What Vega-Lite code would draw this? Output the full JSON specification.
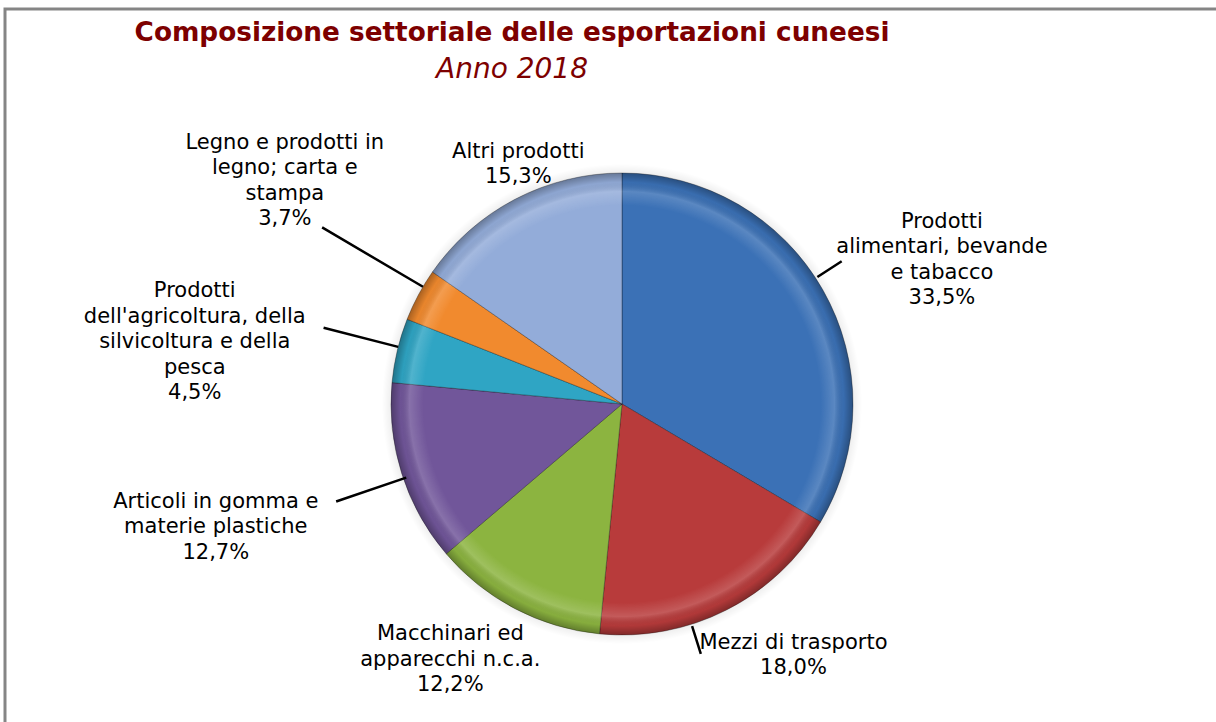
{
  "$schema": "https://vega.github.io/schema/vega-lite/v6.json",
  "width": 1234,
  "height": 790,
  "autosize": "none",
  "padding": {"left": 5, "top": 9, "right": -23, "bottom": -77},
  "background": "white",
  "view": {"stroke": "#858585", "strokeWidth": 3},
  "title": {
    "text": "Composizione settoriale delle esportazioni cuneesi",
    "subtitle": "Anno 2018",
    "anchor": "middle",
    "frame": "group",
    "dx": -110,
    "offset": -119,
    "font": "DejaVu Sans",
    "fontSize": 26.3,
    "fontWeight": "bold",
    "color": "#7d0000",
    "subtitleFont": "DejaVu Sans",
    "subtitleFontSize": 28,
    "subtitleFontStyle": "italic",
    "subtitleColor": "#7d0000",
    "subtitlePadding": 9
  },
  "data": {
    "values": [
      {"ord": 1, "settore": "Prodotti alimentari, bevande e tabacco", "quota": 33.5, "label": ["Prodotti", "alimentari, bevande", "e tabacco", "33,5%"]},
      {"ord": 2, "settore": "Mezzi di trasporto", "quota": 18.0, "label": ["Mezzi di trasporto", "18,0%"]},
      {"ord": 3, "settore": "Macchinari ed apparecchi n.c.a.", "quota": 12.2, "label": ["Macchinari ed", "apparecchi n.c.a.", "12,2%"]},
      {"ord": 4, "settore": "Articoli in gomma e materie plastiche", "quota": 12.7, "label": ["Articoli in gomma e", "materie plastiche", "12,7%"]},
      {"ord": 5, "settore": "Prodotti dell'agricoltura, della silvicoltura e della pesca", "quota": 4.5, "label": ["Prodotti", "dell'agricoltura, della", "silvicoltura e della", "pesca", "4,5%"]},
      {"ord": 6, "settore": "Legno e prodotti in legno; carta e stampa", "quota": 3.7, "label": ["Legno e prodotti in", "legno; carta e", "stampa", "3,7%"]},
      {"ord": 7, "settore": "Altri prodotti", "quota": 15.3, "label": ["Altri prodotti", "15,3%"]}
    ]
  },
  "layer": [
    {
      "data": {"values": [{"k": 1}]},
      "mark": {
        "type": "arc", "radius": 240, "theta": 0, "theta2": 6.2832,
        "fill": {"gradient": "radial", "x1": 0.5, "y1": 0.5, "r1": 0, "x2": 0.5, "y2": 0.5, "r2": 0.5,
          "stops": [
            {"offset": 0, "color": "rgba(0,0,0,0.15)"},
            {"offset": 0.94, "color": "rgba(0,0,0,0.1)"},
            {"offset": 1, "color": "rgba(0,0,0,0)"}
          ]}
      },
      "encoding": {}
    },
    {
      "mark": {"type": "arc", "radius": 231, "stroke": "rgba(0,0,0,0.3)", "strokeWidth": 1},
      "encoding": {
        "theta": {"field": "quota", "type": "quantitative", "stack": true},
        "order": {"field": "ord", "type": "quantitative"},
        "color": {
          "field": "settore", "type": "nominal", "legend": null,
          "scale": {
            "domain": ["Prodotti alimentari, bevande e tabacco", "Mezzi di trasporto", "Macchinari ed apparecchi n.c.a.", "Articoli in gomma e materie plastiche", "Prodotti dell'agricoltura, della silvicoltura e della pesca", "Legno e prodotti in legno; carta e stampa", "Altri prodotti"],
            "range": ["#3b71b6", "#b83b3b", "#8cb440", "#71569a", "#2fa5c4", "#f18a2e", "#93acd9"]
          }
        }
      }
    },
    {
      "data": {"values": [{"k": 1}]},
      "mark": {
        "type": "arc", "radius": 231, "theta": 0, "theta2": 6.2832,
        "fill": {"gradient": "radial", "x1": 0.5, "y1": 0.5, "r1": 0, "x2": 0.5, "y2": 0.5, "r2": 0.5,
          "stops": [
            {"offset": 0, "color": "rgba(255,255,255,0)"},
            {"offset": 0.86, "color": "rgba(255,255,255,0)"},
            {"offset": 0.92, "color": "rgba(255,255,255,0.16)"},
            {"offset": 0.96, "color": "rgba(0,0,0,0.04)"},
            {"offset": 1, "color": "rgba(0,0,0,0.3)"}
          ]}
      },
      "encoding": {}
    },
    {
      "mark": {"type": "arc", "radius": 262, "radius2": 233, "padAngle": 3, "thetaOffset": -0.059, "fillOpacity": 0, "stroke": "#000000", "strokeWidth": 2.5},
      "encoding": {
        "theta": {"field": "quota", "type": "quantitative", "stack": true},
        "order": {"field": "ord", "type": "quantitative"},
        "strokeOpacity": {"condition": {"test": "datum.ord == 1", "value": 1}, "value": 0}
      }
    },
    {
      "mark": {"type": "arc", "radius": 262, "radius2": 233, "padAngle": 3, "thetaOffset": 0.163, "fillOpacity": 0, "stroke": "#000000", "strokeWidth": 2.5},
      "encoding": {
        "theta": {"field": "quota", "type": "quantitative", "stack": true},
        "order": {"field": "ord", "type": "quantitative"},
        "strokeOpacity": {"condition": {"test": "datum.ord == 2", "value": 1}, "value": 0}
      }
    },
    {
      "mark": {"type": "arc", "radius": 302, "radius2": 228, "padAngle": 3, "thetaOffset": -0.022, "fillOpacity": 0, "stroke": "#000000", "strokeWidth": 2.5},
      "encoding": {
        "theta": {"field": "quota", "type": "quantitative", "stack": true},
        "order": {"field": "ord", "type": "quantitative"},
        "strokeOpacity": {"condition": {"test": "datum.ord == 4", "value": 1}, "value": 0}
      }
    },
    {
      "mark": {"type": "arc", "radius": 308, "radius2": 231, "padAngle": 3, "thetaOffset": 0.0157, "fillOpacity": 0, "stroke": "#000000", "strokeWidth": 2.5},
      "encoding": {
        "theta": {"field": "quota", "type": "quantitative", "stack": true},
        "order": {"field": "ord", "type": "quantitative"},
        "strokeOpacity": {"condition": {"test": "datum.ord == 5", "value": 1}, "value": 0}
      }
    },
    {
      "mark": {"type": "arc", "radius": 348, "radius2": 231, "padAngle": 3, "thetaOffset": 0.04, "fillOpacity": 0, "stroke": "#000000", "strokeWidth": 2.5},
      "encoding": {
        "theta": {"field": "quota", "type": "quantitative", "stack": true},
        "order": {"field": "ord", "type": "quantitative"},
        "strokeOpacity": {"condition": {"test": "datum.ord == 6", "value": 1}, "value": 0}
      }
    },
    {
      "mark": {"type": "text", "radius": 352, "dx": 14, "dy": -8, "font": "DejaVu Sans", "fontSize": 21, "lineHeight": 25.5, "align": "center", "baseline": "middle", "color": "#000000"},
      "encoding": {
        "theta": {"field": "quota", "type": "quantitative", "stack": true},
        "order": {"field": "ord", "type": "quantitative"},
        "text": {"condition": {"test": "datum.ord == 1", "field": "label"}, "value": ""}
      }
    },
    {
      "mark": {"type": "text", "radius": 300, "dx": 36, "dy": -29, "font": "DejaVu Sans", "fontSize": 21, "lineHeight": 25.5, "align": "center", "baseline": "middle", "color": "#000000"},
      "encoding": {
        "theta": {"field": "quota", "type": "quantitative", "stack": true},
        "order": {"field": "ord", "type": "quantitative"},
        "text": {"condition": {"test": "datum.ord == 2", "field": "label"}, "value": ""}
      }
    },
    {
      "mark": {"type": "text", "radius": 304, "dx": -31, "dy": -39, "font": "DejaVu Sans", "fontSize": 21, "lineHeight": 25.5, "align": "center", "baseline": "middle", "color": "#000000"},
      "encoding": {
        "theta": {"field": "quota", "type": "quantitative", "stack": true},
        "order": {"field": "ord", "type": "quantitative"},
        "text": {"condition": {"test": "datum.ord == 3", "field": "label"}, "value": ""}
      }
    },
    {
      "mark": {"type": "text", "radius": 424, "dx": -2, "dy": -30, "font": "DejaVu Sans", "fontSize": 21, "lineHeight": 25.5, "align": "center", "baseline": "middle", "color": "#000000"},
      "encoding": {
        "theta": {"field": "quota", "type": "quantitative", "stack": true},
        "order": {"field": "ord", "type": "quantitative"},
        "text": {"condition": {"test": "datum.ord == 4", "field": "label"}, "value": ""}
      }
    },
    {
      "mark": {"type": "text", "radius": 430, "dx": -9, "dy": -13, "font": "DejaVu Sans", "fontSize": 21, "lineHeight": 25.5, "align": "center", "baseline": "middle", "color": "#000000"},
      "encoding": {
        "theta": {"field": "quota", "type": "quantitative", "stack": true},
        "order": {"field": "ord", "type": "quantitative"},
        "text": {"condition": {"test": "datum.ord == 5", "field": "label"}, "value": ""}
      }
    },
    {
      "mark": {"type": "text", "radius": 403, "dx": 18, "dy": -71, "font": "DejaVu Sans", "fontSize": 21, "lineHeight": 25.5, "align": "center", "baseline": "middle", "color": "#000000"},
      "encoding": {
        "theta": {"field": "quota", "type": "quantitative", "stack": true},
        "order": {"field": "ord", "type": "quantitative"},
        "text": {"condition": {"test": "datum.ord == 6", "field": "label"}, "value": ""}
      }
    },
    {
      "mark": {"type": "text", "radius": 263, "dx": 18, "dy": -19, "font": "DejaVu Sans", "fontSize": 21, "lineHeight": 25.5, "align": "center", "baseline": "middle", "color": "#000000"},
      "encoding": {
        "theta": {"field": "quota", "type": "quantitative", "stack": true},
        "order": {"field": "ord", "type": "quantitative"},
        "text": {"condition": {"test": "datum.ord == 7", "field": "label"}, "value": ""}
      }
    }
  ]
}
